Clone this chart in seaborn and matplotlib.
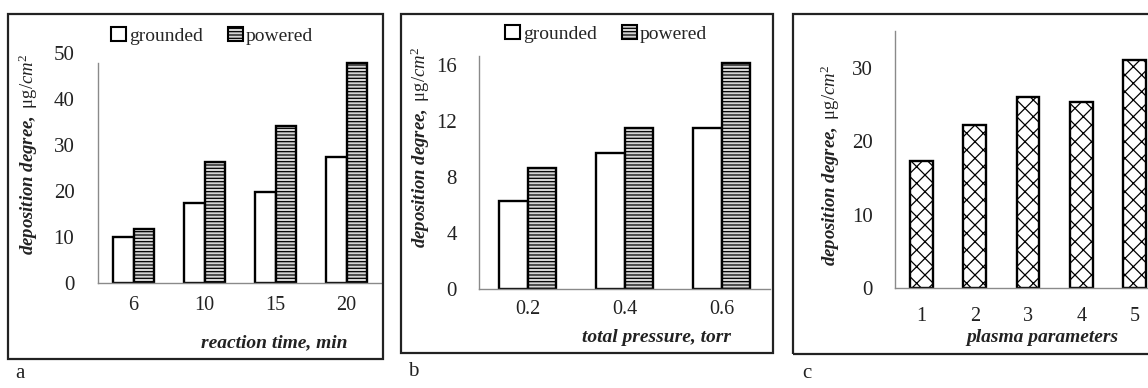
import numpy as np
import pandas as pd
import matplotlib
matplotlib.use("Agg")
import matplotlib.pyplot as plt
from matplotlib.patches import Rectangle, Patch
import seaborn as sns

# Panel (a): deposition degree vs reaction time
time_labels = ["6", "10", "15", "20"]
time_grounded = [9.9, 17.5, 19.8, 27.3]
time_powered = [11.7, 26.2, 34.1, 47.9]

# Panel (b): deposition degree vs total pressure
pressure_labels = ["0.2", "0.4", "0.6"]
pressure_grounded = [6.3, 9.7, 11.5]
pressure_powered = [8.6, 11.5, 16.1]

# Panel (c): deposition degree for each set of plasma parameters
plasma_labels = ["1", "2", "3", "4", "5"]
plasma_values = [17.3, 22.2, 26.0, 25.4, 31.1]

electrodes = ["grounded", "powered"]

sns.set_style("white")
plt.rcParams["font.family"] = ["Liberation Serif", "DejaVu Serif"]
plt.rcParams["mathtext.fontset"] = "custom"
plt.rcParams["mathtext.rm"] = "Liberation Serif"
plt.rcParams["mathtext.it"] = "Liberation Serif:italic"
plt.rcParams["mathtext.bf"] = "Liberation Serif:bold"
plt.rcParams["mathtext.bfit"] = "Liberation Serif:bold:italic"
plt.rcParams["hatch.linewidth"] = 0.9

W, H = 1148, 388
fig = plt.figure(figsize=(W / 100, H / 100), dpi=100)


def axes_px(left, top, right, bottom):
    return fig.add_axes([left / W, 1 - bottom / H, (right - left) / W, (bottom - top) / H])


def fig_pt(x, y):
    return x / W, 1 - y / H


def frame(x0, y0, x1, y1):
    fig.add_artist(Rectangle(fig_pt(x0, y1), (x1 - x0) / W, (y1 - y0) / H,
                             transform=fig.transFigure, fill=False,
                             edgecolor="#222222", linewidth=1.6))


def long_table(labels, grounded, powered):
    return pd.DataFrame({
        "x": labels * 2,
        "value": list(grounded) + list(powered),
        "electrode": [electrodes[0]] * len(labels) + [electrodes[1]] * len(labels),
    })


palette = {"grounded": "white", "powered": "#d4d4d4"}
YLABEL = r"$\mathbfit{deposition\ degree,}\ \mathrm{\mu g/}\mathit{cm}^{2}$"
SPINE = "#8a8a8a"


def style_axes(ax, ytick_pad, xtick_pad):
    sns.despine(ax=ax)
    for s in ("left", "bottom"):
        ax.spines[s].set_color(SPINE)
        ax.spines[s].set_linewidth(1.0)
    ax.tick_params(axis="y", length=0, pad=ytick_pad, labelsize=15, colors="#222222")
    ax.tick_params(axis="x", length=0, pad=xtick_pad, labelsize=14.5, colors="#222222")
    ax.set_xlabel("")
    ax.set_ylabel("")
    ax.patch.set_alpha(0)


def paired_bars(ax, labels, grounded, powered, width):
    df = long_table(labels, grounded, powered)
    sns.barplot(data=df, x="x", y="value", hue="electrode", order=labels,
                hue_order=electrodes, palette=palette, width=width,
                edgecolor="black", linewidth=1.7, legend=False, ax=ax, saturation=1)
    for bar in ax.containers[1]:
        bar.set_hatch("-----")


legend_handles = [
    Patch(facecolor="white", edgecolor="black", linewidth=1.5, label="grounded"),
    Patch(facecolor="#d4d4d4", edgecolor="black", linewidth=1.5, hatch="-----", label="powered"),
]

# ---------------- panel a ----------------
frame(8, 14, 383, 359)
ax_a = axes_px(98, 53, 382, 283)
paired_bars(ax_a, time_labels, time_grounded, time_powered, 0.59)
ax_a.set_ylim(0, 50)
ax_a.set_xlim(-0.5, 3.5)
ax_a.set_yticks([0, 10, 20, 30, 40, 50])
style_axes(ax_a, 17, 9)
ax_a.spines["left"].set_bounds(0, 47.9)
fig.legend(handles=legend_handles, loc="center", bbox_to_anchor=fig_pt(212, 36),
           ncol=2, frameon=False, fontsize=14, handlelength=0.75, handleheight=0.75,
           handletextpad=0.15, columnspacing=1.3, borderpad=0)
fig.text(*fig_pt(28, 154), YLABEL, rotation=90, ha="center", va="center",
         fontsize=13.5, color="#222222")
fig.text(*fig_pt(274, 343), "reaction time, min", ha="center", va="center",
         fontsize=14, fontweight="bold", fontstyle="italic", color="#222222")
fig.text(*fig_pt(20, 373), "a", ha="center", va="center", fontsize=15, color="#222222")

# ---------------- panel b ----------------
frame(401, 14, 773, 353)
ax_b = axes_px(479, 56.3, 770, 288.7)
paired_bars(ax_b, pressure_labels, pressure_grounded, pressure_powered, 0.58)
ax_b.set_ylim(0, 16.6)
ax_b.set_xlim(-0.5, 2.5)
ax_b.set_yticks([0, 4, 8, 12, 16])
style_axes(ax_b, 16, 8)
fig.legend(handles=legend_handles, loc="center", bbox_to_anchor=fig_pt(606, 34),
           ncol=2, frameon=False, fontsize=14, handlelength=0.75, handleheight=0.75,
           handletextpad=0.15, columnspacing=1.3, borderpad=0)
fig.text(*fig_pt(420, 147), YLABEL, rotation=90, ha="center", va="center",
         fontsize=13.5, color="#222222")
fig.text(*fig_pt(657, 338), "total pressure, torr", ha="center", va="center",
         fontsize=14, fontweight="bold", fontstyle="italic", color="#222222")
fig.text(*fig_pt(413, 371), "b", ha="center", va="center", fontsize=15, color="#222222")

# ---------------- panel c ----------------
frame(793, 14, 1152, 354)
ax_c = axes_px(895, 31.1, 1161, 288)
df_c = pd.DataFrame({"x": plasma_labels, "value": plasma_values})
sns.barplot(data=df_c, x="x", y="value", order=plasma_labels, color="white",
            width=0.43, edgecolor="black", linewidth=1.7, ax=ax_c, saturation=1)
for bar in ax_c.containers[0]:
    bar.set_hatch("xx")
ax_c.set_ylim(0, 35)
ax_c.set_xlim(-0.5, 4.5)
ax_c.set_yticks([0, 10, 20, 30])
style_axes(ax_c, 16, 14)
fig.text(*fig_pt(830, 165), YLABEL, rotation=90, ha="center", va="center",
         fontsize=13.5, color="#222222")
fig.text(*fig_pt(1042, 338), "plasma parameters", ha="center", va="center",
         fontsize=14, fontweight="bold", fontstyle="italic", color="#222222")
fig.text(*fig_pt(807, 373), "c", ha="center", va="center", fontsize=15, color="#222222")

fig.savefig("out.png", dpi=100)
